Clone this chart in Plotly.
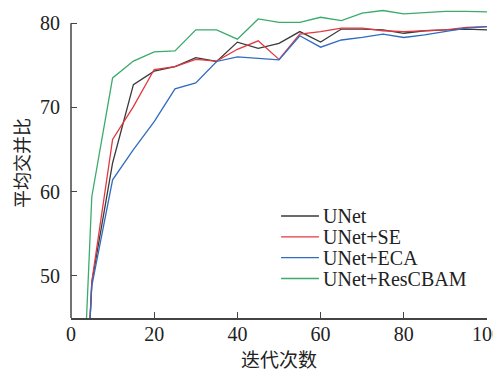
import plotly.graph_objects as go

epochs = [1, 5, 10, 15, 20, 25, 30, 35, 40, 45, 50, 55, 60, 65, 70, 75, 80, 85, 90, 95, 100]
unet = [7, 49.2, 63.4, 72.7, 74.3, 74.85, 75.9, 75.45, 77.75, 77.0, 77.6, 79.0, 77.75, 79.3, 79.3, 79.2, 78.8, 79.1, 79.2, 79.3, 79.2]
unet_se = [8, 49.3, 66.2, 70.1, 74.5, 74.85, 75.7, 75.5, 76.9, 77.9, 75.7, 78.7, 79.0, 79.4, 79.4, 79.1, 79.0, 79.1, 79.2, 79.5, 79.6]
unet_eca = [12, 48.8, 61.4, 65.0, 68.3, 72.2, 72.9, 75.45, 76.0, 75.85, 75.65, 78.5, 77.15, 78.0, 78.3, 78.7, 78.3, 78.6, 79.0, 79.4, 79.6]
unet_rescbam = [14, 59.4, 73.5, 75.5, 76.6, 76.7, 79.2, 79.2, 78.1, 80.5, 80.1, 80.1, 80.7, 80.3, 81.2, 81.5, 81.1, 81.25, 81.4, 81.4, 81.35]

names = ["UNet", "UNet+SE", "UNet+ECA", "UNet+ResCBAM"]
colors = ["#3a3a3a", "#e2383f", "#2f6cbf", "#3aab6c"]
series = [unet, unet_se, unet_eca, unet_rescbam]

x_ticks = [0, 20, 40, 60, 80, 100]
y_ticks = [50, 60, 70, 80]

fig = go.Figure()
for name, col, ys in zip(names, colors, series):
    fig.add_trace(go.Scatter(x=epochs, y=ys, mode="lines", name=name,
                             line=dict(color=col, width=1.3), showlegend=False))

serif = "Liberation Serif"
cjk = "Noto Sans CJK SC"

# Manual legend (compact row spacing like the reference)
leg_x0, leg_x1, leg_tx = 0.505, 0.596, 0.601
leg_y0, leg_dy = 0.329, 0.0672
for i, (name, col) in enumerate(zip(names, colors)):
    yy = leg_y0 - i * leg_dy
    fig.add_shape(type="line", xref="paper", yref="paper", x0=leg_x0, x1=leg_x1,
                  y0=yy, y1=yy, line=dict(color=col, width=1.3))
    fig.add_annotation(xref="paper", yref="paper", x=leg_tx, y=yy, text=name,
                       showarrow=False, xanchor="left", yanchor="middle",
                       font=dict(family=serif, size=20, color="#222"))

fig.update_layout(
    width=501, height=374,
    margin=dict(l=63, r=22, t=0, b=64, autoexpand=False),
    paper_bgcolor="white", plot_bgcolor="white",
    showlegend=False,
    xaxis=dict(range=[0, 100], tickvals=x_ticks, ticks="inside", ticklen=6,
               tickcolor="#444", tickwidth=1.3, showline=True, linecolor="#444",
               linewidth=1.5, showgrid=False, zeroline=False, automargin=False,
               ticklabeloverflow="allow", ticklabelstandoff=-3,
               tickfont=dict(family=serif, size=20, color="#222"),
               title=dict(text="迭代次数", font=dict(family=cjk, size=19, color="#222"), standoff=6)),
    yaxis=dict(range=[45, 81.8], tickvals=y_ticks, ticks="inside", ticklen=6,
               tickcolor="#444", tickwidth=1.3, showline=False, automargin=False,
               showgrid=False, zeroline=False, ticklabelstandoff=10,
               tickfont=dict(family=serif, size=20, color="#222"),
               title=dict(text="平均交并比", font=dict(family=cjk, size=18, color="#222"), standoff=12)),
)
fig.add_shape(type="line", xref="paper", yref="y", x0=0, x1=0, y0=45, y1=80,
              line=dict(color="#444", width=1.5))

fig.write_html("out.html")
